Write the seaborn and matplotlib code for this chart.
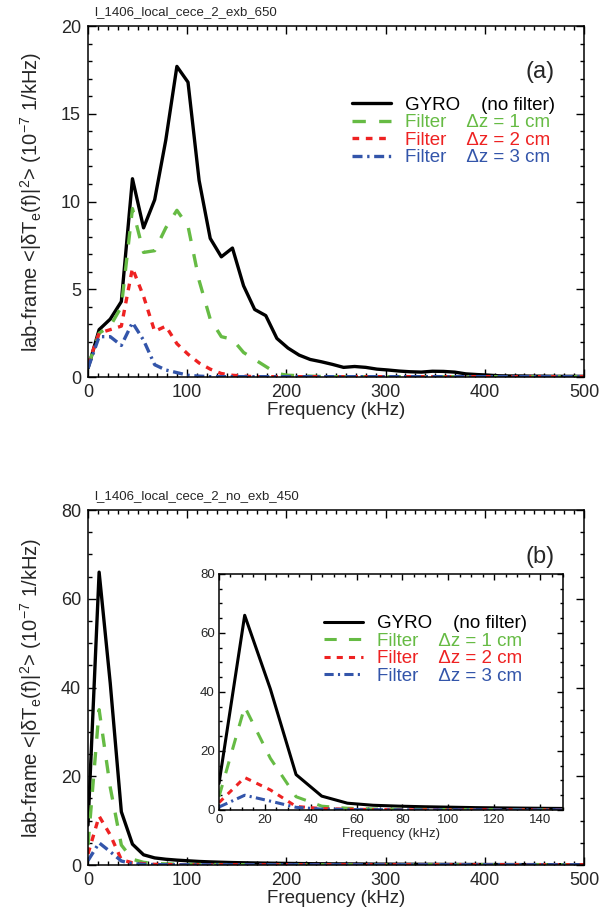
import matplotlib
matplotlib.use('Agg')
import matplotlib.pyplot as plt
from matplotlib.ticker import MultipleLocator
import seaborn as sns

# frequency grid (kHz)
freq = [0.0, 11.2, 22.4, 33.6, 44.8, 56.0, 67.2, 78.4, 89.6, 100.8,
        112.0, 123.2, 134.4, 145.6, 156.8, 168.0, 179.2, 190.4, 201.6, 212.8,
        224.0, 235.2, 246.4, 257.6, 268.8, 280.0, 291.2, 302.4, 313.6, 324.8,
        336.0, 347.2, 358.4, 369.6, 380.8, 392.0, 403.2, 414.4, 425.6, 436.8,
        448.0, 459.2, 470.4, 481.6, 492.8, 504.0]

# panel (a): l_1406_local_cece_2_exb_650
a_gyro = [0.5, 2.7, 3.3, 4.3, 11.3, 8.5, 10.1, 13.5, 17.7, 16.8,
          11.2, 7.9, 6.85, 7.35, 5.2, 3.85, 3.5, 2.2, 1.65, 1.25,
          1.0, 0.87, 0.72, 0.55, 0.6, 0.55, 0.45, 0.4, 0.34, 0.3,
          0.28, 0.33, 0.32, 0.28, 0.18, 0.14, 0.11, 0.07, 0.06, 0.06,
          0.05, 0.05, 0.04, 0.04, 0.04, 0.04]
a_dz1 = [0.6, 2.5, 2.9, 4.0, 9.6, 7.1, 7.2, 8.5, 9.5, 8.6,
         5.5, 3.3, 2.3, 2.15, 1.4, 1.0, 0.6, 0.2, 0.1, 0.08,
         0.05, 0.03, 0.02, 0.02, 0.02, 0.02, 0.02, 0.02, 0.02, 0.02,
         0.02, 0.02, 0.02, 0.02, 0.02, 0.02, 0.02, 0.02, 0.02, 0.02,
         0.02, 0.02, 0.02, 0.02, 0.02, 0.02]
a_dz2 = [0.7, 2.5, 2.7, 2.9, 6.2, 4.6, 2.6, 2.9, 1.9, 1.3,
         0.8, 0.45, 0.2, 0.1, 0.05, 0.02, 0.02, 0.02, 0.02, 0.02,
         0.02, 0.02, 0.02, 0.02, 0.02, 0.02, 0.02, 0.02, 0.02, 0.02,
         0.02, 0.02, 0.02, 0.02, 0.02, 0.02, 0.02, 0.02, 0.02, 0.02,
         0.02, 0.02, 0.02, 0.02, 0.02, 0.02]
a_dz3 = [0.5, 2.3, 2.3, 1.8, 3.1, 2.1, 0.7, 0.4, 0.25, 0.1,
         0.05, 0.02, 0.02, 0.02, 0.02, 0.02, 0.02, 0.02, 0.02, 0.02,
         0.02, 0.02, 0.02, 0.02, 0.02, 0.02, 0.02, 0.02, 0.02, 0.02,
         0.02, 0.02, 0.02, 0.02, 0.02, 0.02, 0.02, 0.02, 0.02, 0.02,
         0.02, 0.02, 0.02, 0.02, 0.02, 0.02]

# panel (b): l_1406_local_cece_2_no_exb_450
b_gyro = [9.0, 66.0, 41.0, 12.0, 4.7, 2.3, 1.6, 1.3, 1.1, 0.95,
          0.8, 0.7, 0.62, 0.55, 0.5, 0.46, 0.42, 0.39, 0.36, 0.33,
          0.3, 0.28, 0.26, 0.25, 0.24, 0.22, 0.2, 0.2, 0.18, 0.17,
          0.16, 0.15, 0.14, 0.13, 0.12, 0.12, 0.11, 0.1, 0.1, 0.09,
          0.09, 0.08, 0.08, 0.07, 0.07, 0.07]
b_dz1 = [4.5, 35.0, 17.5, 4.5, 1.3, 0.6, 0.35, 0.25, 0.2, 0.15,
         0.12, 0.1, 0.1, 0.08, 0.08, 0.07, 0.07, 0.06, 0.06, 0.05,
         0.05, 0.05, 0.05, 0.05, 0.05, 0.05, 0.05, 0.05, 0.05, 0.05,
         0.05, 0.05, 0.05, 0.05, 0.05, 0.05, 0.05, 0.05, 0.05, 0.05,
         0.05, 0.05, 0.05, 0.05, 0.05, 0.05]
b_dz2 = [2.5, 11.0, 6.8, 1.2, 0.5, 0.3, 0.15, 0.1, 0.05, 0.05,
         0.05, 0.05, 0.05, 0.05, 0.05, 0.05, 0.05, 0.05, 0.05, 0.05,
         0.05, 0.05, 0.05, 0.05, 0.05, 0.05, 0.05, 0.05, 0.05, 0.05,
         0.05, 0.05, 0.05, 0.05, 0.05, 0.05, 0.05, 0.05, 0.05, 0.05,
         0.05, 0.05, 0.05, 0.05, 0.05, 0.05]
b_dz3 = [1.0, 5.0, 3.0, 0.9, 0.3, 0.15, 0.1, 0.05, 0.05, 0.05,
         0.05, 0.05, 0.05, 0.05, 0.05, 0.05, 0.05, 0.05, 0.05, 0.05,
         0.05, 0.05, 0.05, 0.05, 0.05, 0.05, 0.05, 0.05, 0.05, 0.05,
         0.05, 0.05, 0.05, 0.05, 0.05, 0.05, 0.05, 0.05, 0.05, 0.05,
         0.05, 0.05, 0.05, 0.05, 0.05, 0.05]

labels = ['GYRO    (no filter)', 'Filter    \u0394z = 1 cm',
          'Filter    \u0394z = 2 cm', 'Filter    \u0394z = 3 cm']
colors = ['black', '#66bb44', '#ee2222', '#3355aa']
styles = ['-', (0, (4, 4)), (0, (2, 2)), (0, (3, 1.4, 0.7, 1.4))]

ylab = ('lab-frame <|\u03b4T$_\\mathregular{e}$(f)|$^\\mathregular{2}$> '
        '(10$^\\mathregular{-7}$ 1/kHz)')

sns.set_style('ticks')
plt.rcParams['font.family'] = ['Liberation Sans', 'DejaVu Sans']


def draw(ax, series, xmax, ymax, xmaj, xmin, ymaj, ymin, lw=2.4):
    for vals, col, ls in zip(series, colors, styles):
        sns.lineplot(x=freq, y=vals, ax=ax, color=col, linestyle=ls,
                     linewidth=lw, estimator=None, sort=False)
    ax.set_xlim(0, xmax)
    ax.set_ylim(0, ymax)
    ax.xaxis.set_major_locator(MultipleLocator(xmaj))
    ax.xaxis.set_minor_locator(MultipleLocator(xmin))
    ax.yaxis.set_major_locator(MultipleLocator(ymaj))
    ax.yaxis.set_minor_locator(MultipleLocator(ymin))
    ax.tick_params(which='both', direction='in', top=True, right=True,
                   width=1.0, color='black')
    for s in ax.spines.values():
        s.set_linewidth(1.1)
        s.set_color('black')


def add_legend(ax, x, y, fs=13.5):
    leg = ax.legend(handles=ax.get_lines()[:4], labels=labels, loc='upper left',
                    bbox_to_anchor=(x, y), frameon=False, fontsize=fs,
                    handlelength=2.1, handletextpad=0.75, labelspacing=0.02,
                    borderpad=0, borderaxespad=0)
    for t, c in zip(leg.get_texts(), colors):
        t.set_color(c)


fig = plt.figure(figsize=(6.02, 9.14), dpi=100)
ax_a = fig.add_axes([0.1462, 0.5875, 0.8239, 0.3840])
ax_b = fig.add_axes([0.1462, 0.0536, 0.8239, 0.3884])
ax_i = fig.add_axes([0.3638, 0.1138, 0.5714, 0.2582])

for ax, data, ymaj, ymin, ymax, name, tag in [
        (ax_a, [a_gyro, a_dz1, a_dz2, a_dz3], 5, 1, 20,
         'l_1406_local_cece_2_exb_650', '(a)'),
        (ax_b, [b_gyro, b_dz1, b_dz2, b_dz3], 20, 5, 80,
         'l_1406_local_cece_2_no_exb_450', '(b)')]:
    draw(ax, data, 500, ymax, 100, 10, ymaj, ymin)
    ax.tick_params(which='major', length=6, labelsize=13, pad=5)
    ax.tick_params(which='minor', length=3)
    ax.set_xlabel('Frequency (kHz)', fontsize=13.5, labelpad=1)
    ax.set_ylabel(ylab, fontsize=14.5)
    ax.yaxis.set_label_coords(-0.088, 0.5)
    ax.text(0.012, 1.022, name, transform=ax.transAxes, fontsize=9.5,
            ha='left', va='bottom')
    ax.text(0.911, 0.869, tag, transform=ax.transAxes, fontsize=17,
            ha='center', va='center')

add_legend(ax_a, 0.532, 0.799)

draw(ax_i, [b_gyro, b_dz1, b_dz2, b_dz3], 150, 80, 20, 5, 20, 5, lw=2.2)
ax_i.tick_params(which='major', length=4, labelsize=9.5, pad=3)
ax_i.tick_params(which='minor', length=2)
ax_i.set_xlabel('Frequency (kHz)', fontsize=9.5, labelpad=1)
add_legend(ax_i, 0.305, 0.825)

fig.savefig('out.png', dpi=100)
